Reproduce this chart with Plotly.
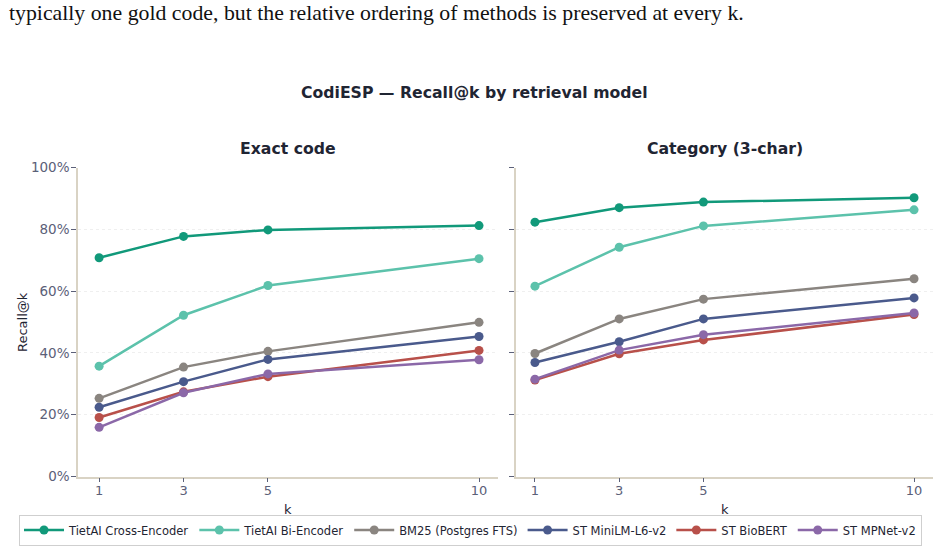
import plotly.graph_objects as go

k_values = [1, 3, 5, 10]
models = ["TietAI Cross-Encoder", "TietAI Bi-Encoder", "BM25 (Postgres FTS)",
          "ST MiniLM-L6-v2", "ST BioBERT", "ST MPNet-v2"]
colors = ["#11997a", "#5cc2ab", "#8a8580", "#4a5a8c", "#b8504a", "#8b68a8"]

exact_cross = [0.708, 0.777, 0.798, 0.812]
exact_bi = [0.357, 0.522, 0.618, 0.705]
exact_bm25 = [0.253, 0.354, 0.405, 0.499]
exact_minilm = [0.224, 0.307, 0.379, 0.453]
exact_biobert = [0.191, 0.274, 0.323, 0.408]
exact_mpnet = [0.159, 0.271, 0.332, 0.378]

cat_cross = [0.823, 0.870, 0.888, 0.902]
cat_bi = [0.616, 0.742, 0.811, 0.863]
cat_bm25 = [0.398, 0.510, 0.574, 0.640]
cat_minilm = [0.369, 0.436, 0.510, 0.578]
cat_biobert = [0.312, 0.397, 0.442, 0.524]
cat_mpnet = [0.315, 0.409, 0.459, 0.529]

exact_series = [exact_cross, exact_bi, exact_bm25, exact_minilm, exact_biobert, exact_mpnet]
cat_series = [cat_cross, cat_bi, cat_bm25, cat_minilm, cat_biobert, cat_mpnet]

TXT = "#1f2533"
TICK = "#5b6078"
SPINE = "#d9d3c4"
FONT = "DejaVu Sans"

fig = go.Figure()
for name, col, ys in zip(models, colors, exact_series):
    fig.add_trace(go.Scatter(x=k_values, y=ys, name=name, mode="lines+markers",
                             line=dict(color=col, width=2.5),
                             marker=dict(color=col, size=9),
                             xaxis="x", yaxis="y", legendgroup=name))
for name, col, ys in zip(models, colors, cat_series):
    fig.add_trace(go.Scatter(x=k_values, y=ys, name=name, mode="lines+markers",
                             line=dict(color=col, width=2.5),
                             marker=dict(color=col, size=9),
                             xaxis="x2", yaxis="y2", legendgroup=name, showlegend=False))

W, H = 941, 550
def px(x):
    return x / W
def py(y):
    return (H - y) / H

xcommon = dict(tickvals=k_values, ticktext=[str(v) for v in k_values],
               showline=True, linecolor=SPINE, linewidth=1.5, automargin=False,
               ticks="outside", ticklen=4, tickcolor=TICK, tickwidth=1,
               showgrid=False, zeroline=False, ticklabelstandoff=-3,
               tickfont=dict(family=FONT, size=13, color=TICK))
ycommon = dict(range=[0, 1], tickvals=[0, 0.2, 0.4, 0.6, 0.8, 1.0],
               showline=True, linecolor=SPINE, linewidth=1.5, automargin=False,
               ticks="outside", ticklen=5, tickcolor=TICK, tickwidth=1,
               showgrid=True, gridcolor="#efefef", griddash="dot", gridwidth=1,
               zeroline=False, ticklabelstandoff=-1,
               tickfont=dict(family=FONT, size=13.5, color=TICK))

def ann(text, x, y, size=15.7, bold=True, color=TXT, family=FONT, xanchor="center", angle=0):
    f = dict(family=family, size=size, color=color)
    if bold:
        f["weight"] = "bold"
    return dict(text=text, x=x, y=y, xref="paper", yref="paper", xanchor=xanchor,
                yanchor="middle", showarrow=False, textangle=angle, font=f)

fig.update_layout(
    width=W, height=H,
    margin=dict(l=0, r=0, t=0, b=0),
    paper_bgcolor="white", plot_bgcolor="white",
    xaxis=dict(domain=[px(78), px(498)], range=[0.5, 10.45], anchor="y", **xcommon),
    xaxis2=dict(domain=[px(516), px(933)], range=[0.55, 10.45], anchor="y2", **xcommon),
    yaxis=dict(domain=[py(476.5), py(167.5)], anchor="x", tickformat=".0%", **ycommon),
    yaxis2=dict(domain=[py(476.5), py(167.5)], anchor="x2", showticklabels=False, **ycommon),
    legend=dict(orientation="h", x=0.5, xanchor="center", y=py(530), yanchor="middle",
                bordercolor="#cfcfcf", borderwidth=1, bgcolor="white",
                font=dict(family=FONT, size=11.5, color=TXT), itemwidth=40),
    annotations=[
        ann("CodiESP — Recall@k by retrieval model", 0.504, py(93)),
        ann("Exact code", px(288), py(149)),
        ann("Category (3-char)", px(724.5), py(149)),
        ann("k", px(288), py(509), size=13, bold=False),
        ann("k", px(724.5), py(509), size=13, bold=False),
        ann("Recall@k", px(22), py(322), size=13, bold=False, angle=-90),
        ann("typically one gold code, but the relative ordering of methods is preserved at every k.",
            px(7), py(13), size=21.8, bold=False, color="#111111",
            family="Liberation Serif", xanchor="left"),
    ],
)

fig.write_html("out.html")
